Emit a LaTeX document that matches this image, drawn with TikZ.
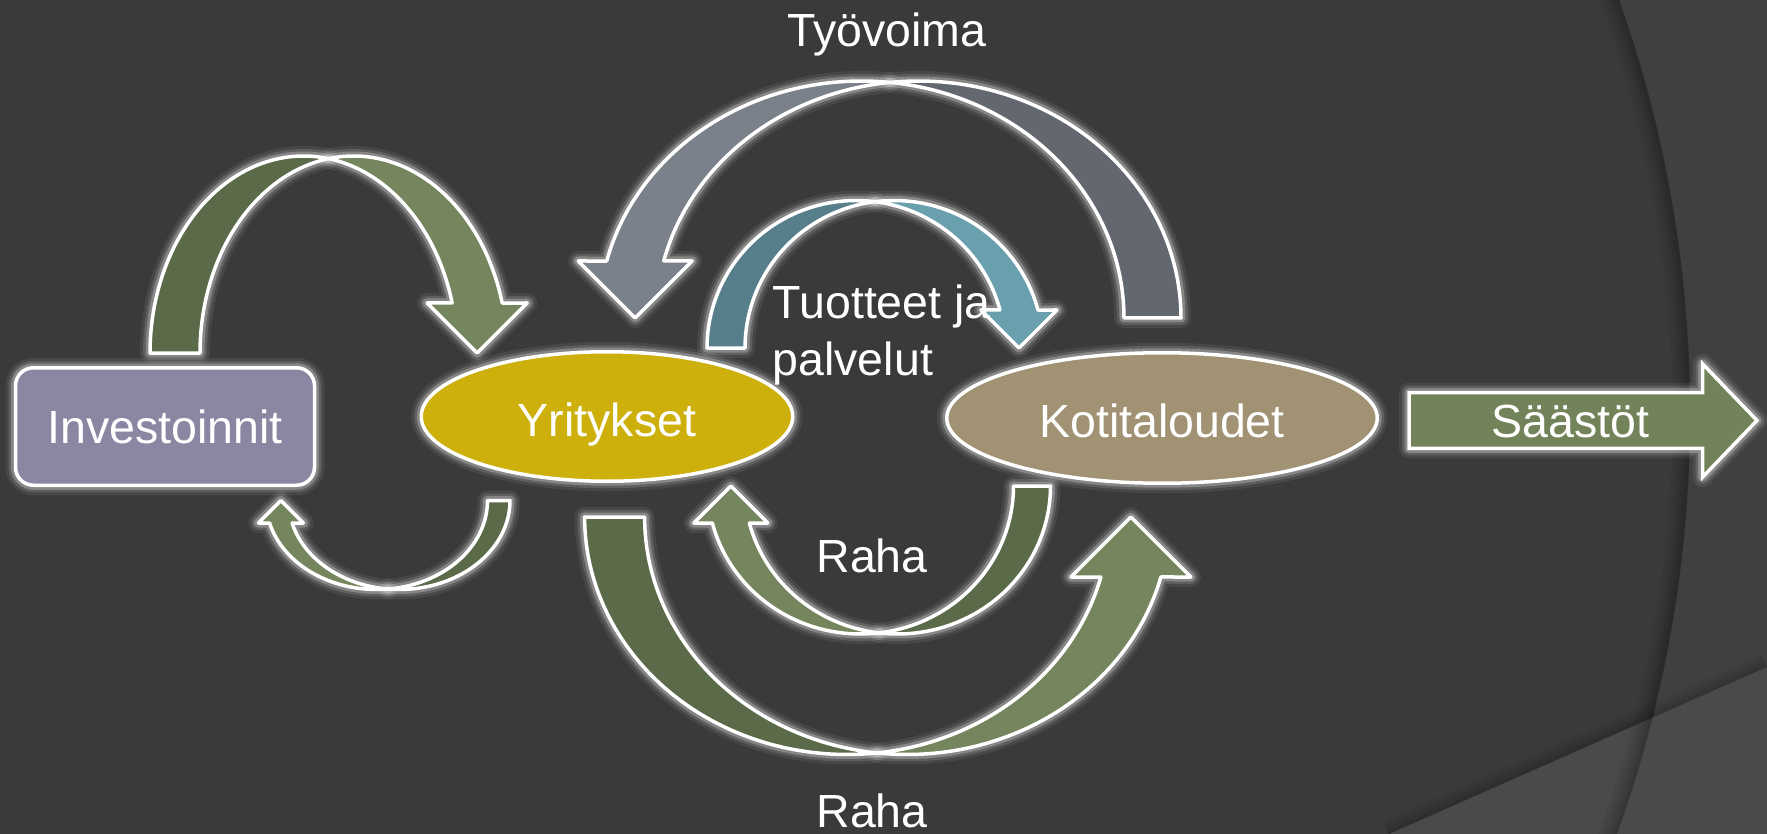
\documentclass[tikz,border=0pt]{standalone}
\usepackage{fontspec}
\setmainfont{Liberation Sans}
\usetikzlibrary{shapes.geometric}
\definecolor{bg}{HTML}{3A3A3A}
\definecolor{bgout}{HTML}{404040}
\definecolor{bgband}{HTML}{4A4A4A}
\definecolor{gdark}{HTML}{5B6A49}
\definecolor{glight}{HTML}{75855E}
\definecolor{tdark}{HTML}{567F8B}
\definecolor{tlight}{HTML}{6A9FAE}
\definecolor{sdark}{HTML}{636770}
\definecolor{slight}{HTML}{7B818B}
\definecolor{invfill}{HTML}{8B87A3}
\definecolor{yrfill}{HTML}{CDB00C}
\definecolor{kofill}{HTML}{A09272}
\definecolor{safill}{HTML}{738359}
\tikzset{
  glow/.style={preaction={draw=white,line width=20pt,draw opacity=.07,line join=round},
               preaction={draw=white,line width=14pt,draw opacity=.13,line join=round},
               preaction={draw=white,line width=9pt,draw opacity=.25,line join=round}},
  shapeline/.style={glow, draw=white, line width=3.5pt, line join=round},
  lbl/.style={text=white, font=\fontsize{46.5pt}{57pt}\selectfont, inner sep=0pt},
  band/.style={shapeline, fill=#1},
  edgeshade/.style={black, draw opacity=.045},
}
% curved block arrow: crossing x, base y, x radius, y radius, thickness, xdir, ydir, start colour, head colour
\newcommand\carrow[9]{%
  \begin{scope}[shift={(#1,#2)}, xscale=#6, yscale=#7]
    \pgfmathsetmacro\tc{acos(#5/(2*#3))}
    \pgfmathsetmacro\tcb{180-\tc}
    \pgfmathsetmacro\sh{asin(#5/#4)}
    \pgfmathsetmacro\xm{#3*cos(\sh)}
    \path[band=#8] plot[domain=180:\tc, samples=60, variable=\t] ({-#5/2+#3*cos(\t)},{-#4*sin(\t)})
      -- plot[domain=\tcb:180, samples=60, variable=\t] ({#5/2+#3*cos(\t)},{-#4*sin(\t)}) -- cycle;
    \path[band=#9] plot[domain=\tcb:\sh, samples=60, variable=\t] ({#5/2+#3*cos(\t)},{-#4*sin(\t)})
      -- ({\xm+#5},{-#5}) -- (\xm,0) -- ({\xm-#5},{-#5}) -- ({\xm-#5/2},{-#5})
      -- plot[domain=\sh:\tc, samples=60, variable=\t] ({-#5/2+#3*cos(\t)},{-#4*sin(\t)}) -- cycle;
  \end{scope}}
\begin{document}
\begin{tikzpicture}[x=1pt, y=-1pt]
\useasboundingbox (0,0) rectangle (1767,834);
% background
\fill[bgout] (0,0) rectangle (1767,834);
\begin{scope}
  \clip (0,0) rectangle (1767,834);
  \fill[bg] (452,414) circle[radius=1238pt];
  \fill[bgband] (1389,834) -- (1767,667) -- (1767,834) -- cycle;
  \begin{scope}
    \clip (1300,834) -- (1389,834) -- (1767,667) -- (1767,600) -- cycle;
    \foreach \w in {28,20,13,7}
      \draw[edgeshade, line width=\w pt] (1389,834) -- (1767,667);
  \end{scope}
  \begin{scope}
    \clip (452,414) circle[radius=1238pt];
    \foreach \w in {36,28,21,15,10,6}
      \draw[edgeshade, line width=\w pt] (452,414) circle[radius=1238pt];
  \end{scope}
\end{scope}
% curved arrows
\carrow{328.6}{353}{153.6}{197}{50}{1}{1}{gdark}{glight}
\carrow{388}{500.5}{110.75}{89}{22.5}{-1}{-1}{gdark}{glight}
\carrow{890}{318}{262.5}{237}{57}{-1}{1}{sdark}{slight}
\carrow{875}{348}{149}{147.5}{38}{1}{1}{tdark}{tlight}
\carrow{879}{486}{153}{148}{37}{-1}{-1}{gdark}{glight}
\carrow{877}{517}{262.4}{237.5}{60}{1}{-1}{gdark}{glight}
% nodes
\node[shapeline, fill=invfill, rounded corners=18pt, minimum width=299pt, minimum height=117.5pt,
      lbl, text height=34pt, text depth=0pt] (inv) at (165,426.5) {Investoinnit};
\node[shapeline, fill=yrfill, ellipse, minimum width=371.5pt, minimum height=129.5pt,
      lbl, text height=39pt, text depth=0pt] (yr) at (607,416.5) {Yritykset};
\node[shapeline, fill=kofill, ellipse, minimum width=430.5pt, minimum height=130.5pt,
      lbl, text height=38pt, text depth=0pt] (ko) at (1162,418) {Kotitaloudet};
\path[shapeline, fill=safill, line join=miter] (1409,392.6) -- (1702.7,392.6) -- (1702.7,364)
      -- (1757,420.5) -- (1702.7,477) -- (1702.7,448.4) -- (1409,448.4) -- cycle;
\node[lbl, anchor=base] (sa) at (1570.7,437) {Säästöt};
% labels
\node[lbl, anchor=base] (tyo) at (886.7,46.7) {Työvoima};
\node[lbl, anchor=base west, align=left] (tuo) at (772.5,375) {Tuotteet ja\\palvelut};
\node[lbl, anchor=base] (raha1) at (872,572.7) {Raha};
\node[lbl, anchor=base] (raha2) at (872,827) {Raha};
\end{tikzpicture}
\end{document}
